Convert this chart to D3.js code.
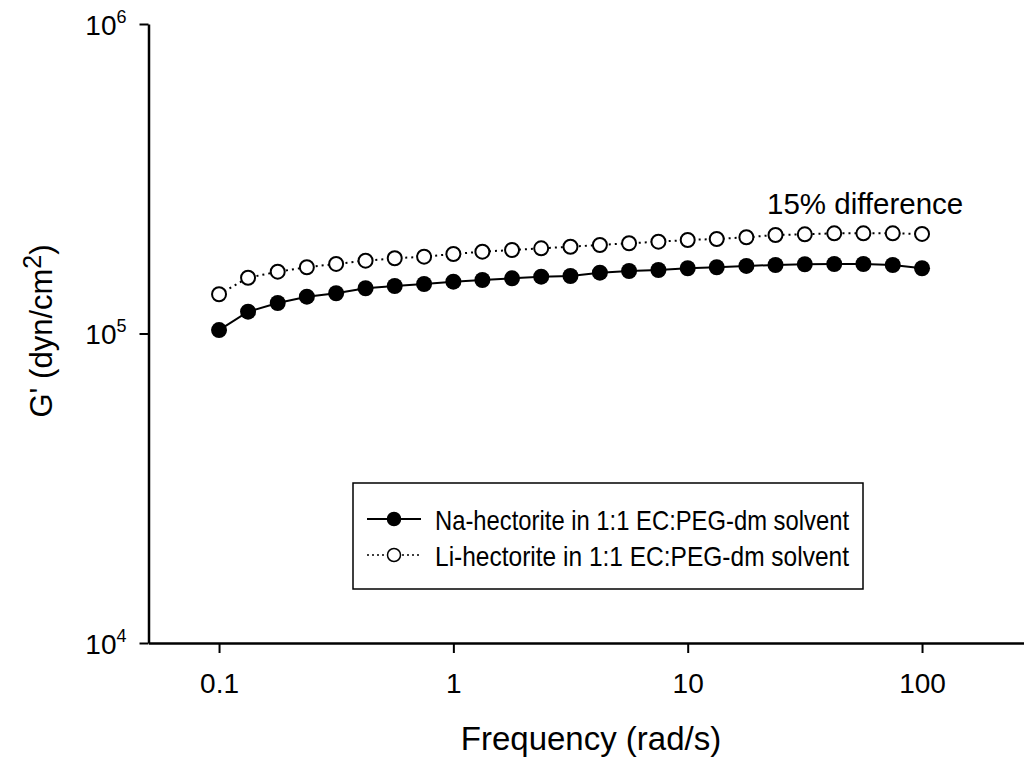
<!DOCTYPE html>
<head>
    <script src="https://d3js.org/d3.v7.min.js"></script>
    <style>
        body { margin: 0; background: #fff; }
        text { font-family: "Liberation Sans", Arial, sans-serif; fill: #000; }
    </style>
</head>
<body>
    <svg></svg>
</body>

<script>
    // Frequency (rad/s)
    var freq = [0.1, 0.133, 0.178, 0.237, 0.316, 0.422, 0.562, 0.75,
                1, 1.33, 1.78, 2.37, 3.16, 4.22, 5.62, 7.5,
                10, 13.3, 17.8, 23.7, 31.6, 42.2, 56.2, 75, 100];

    // G' (dyn/cm2), Na-hectorite
    var naG = [102600, 117600, 125500, 131500, 134900, 140000, 142400, 144500,
               147000, 148900, 150800, 152600, 153400, 157200, 159200, 160400,
               162500, 163700, 165300, 166500, 167400, 167700, 167700, 166500, 162500];

    // G' (dyn/cm2), Li-hectorite
    var liG = [133900, 151400, 158400, 163700, 167800, 171900, 175000, 177100,
               180700, 183800, 186100, 188500, 190700, 193200, 195700, 198000,
               200500, 202000, 204600, 208100, 209200, 210700, 210700, 210700, 209700];

    var seriesNames = ["Na-hectorite in 1:1 EC:PEG-dm solvent", "Li-hectorite in 1:1 EC:PEG-dm solvent"];
    var xTicks = [0.1, 1, 10, 100];
    var yTicks = [1e4, 1e5, 1e6];

    // Variables
    var width = 1024;
    var height = 765;
    var plotLeft = 148.5, plotTop = 24, plotBottom = 643;
    var decade = 234.33;

    var svg = d3.select('svg')
        .attr('width', width)
        .attr('height', height);

    var x = d3.scaleLog()
        .domain([0.05, 300])
        .range([plotLeft, plotLeft + Math.log10(300 / 0.05) * decade]);

    var y = d3.scaleLog()
        .domain([1e4, 1e6])
        .range([plotBottom, plotTop]);

    // x axis
    var xAxis = svg.append('g')
        .attr('transform', 'translate(0,' + plotBottom + ')')
        .call(d3.axisBottom(x).tickValues(xTicks).tickSizeInner(10).tickSizeOuter(0)
            .tickFormat(function (d) { return d; }));
    xAxis.select('.domain').attr('stroke-width', 2.5);
    xAxis.selectAll('.tick line').attr('stroke-width', 2);
    xAxis.selectAll('.tick text')
        .attr('y', 50)
        .attr('dy', null)
        .style('font-size', '28px');

    // y axis
    var yAxis = svg.append('g')
        .attr('transform', 'translate(' + plotLeft + ',0)')
        .call(d3.axisLeft(y).tickValues(yTicks).tickSizeInner(9).tickSizeOuter(0).tickFormat(''));
    yAxis.select('.domain').attr('stroke-width', 2.5);
    yAxis.selectAll('.tick line').attr('stroke-width', 2);
    yAxis.selectAll('.tick text').remove();
    yAxis.selectAll('.tick').append('text')
        .attr('x', -22)
        .attr('y', 10)
        .attr('text-anchor', 'end')
        .style('font-size', '28px')
        .each(function (d) {
            var t = d3.select(this);
            t.append('tspan').text('10');
            t.append('tspan')
                .attr('dy', -12)
                .style('font-size', '18px')
                .text(Math.round(Math.log10(d)));
        });

    // Axis titles
    svg.append('text')
        .attr('x', 591)
        .attr('y', 750)
        .attr('text-anchor', 'middle')
        .style('font-size', '33px')
        .text('Frequency (rad/s)');

    var yTitle = svg.append('text')
        .attr('transform', 'translate(52,331) rotate(-90)')
        .attr('text-anchor', 'middle')
        .style('font-size', '31px');
    yTitle.append('tspan').text("G' (dyn/cm");
    yTitle.append('tspan').attr('dy', -11).style('font-size', '25px').text('2');
    yTitle.append('tspan').attr('dy', 11).text(')');

    // Lines
    var line = d3.line()
        .x(function (d) { return x(d[0]); })
        .y(function (d) { return y(d[1]); });

    var naData = d3.zip(freq, naG);
    var liData = d3.zip(freq, liG);

    svg.append('path')
        .datum(liData)
        .attr('d', line)
        .attr('fill', 'none')
        .attr('stroke', '#000')
        .attr('stroke-width', 2)
        .attr('stroke-dasharray', '2,4');

    svg.append('path')
        .datum(naData)
        .attr('d', line)
        .attr('fill', 'none')
        .attr('stroke', '#000')
        .attr('stroke-width', 2);

    svg.selectAll('.li')
        .data(liData)
        .enter().append('circle')
        .attr('class', 'li')
        .attr('cx', function (d) { return x(d[0]); })
        .attr('cy', function (d) { return y(d[1]); })
        .attr('r', 7)
        .attr('fill', '#fff')
        .attr('stroke', '#000')
        .attr('stroke-width', 2);

    svg.selectAll('.na')
        .data(naData)
        .enter().append('circle')
        .attr('class', 'na')
        .attr('cx', function (d) { return x(d[0]); })
        .attr('cy', function (d) { return y(d[1]); })
        .attr('r', 8)
        .attr('fill', '#000');

    // Annotation
    svg.append('text')
        .attr('x', 767)
        .attr('y', 214)
        .style('font-size', '29.5px')
        .text('15% difference');

    // Legend
    var legend = svg.append('g').attr('transform', 'translate(353,483)');
    legend.append('rect')
        .attr('width', 510)
        .attr('height', 106)
        .attr('fill', '#fff')
        .attr('stroke', '#000')
        .attr('stroke-width', 1.5);

    var rows = [
        {name: seriesNames[0], dash: null, fill: '#000', cy: 36, base: 47},
        {name: seriesNames[1], dash: '2,3', fill: '#fff', cy: 72, base: 83}
    ];

    rows.forEach(function (r) {
        legend.append('line')
            .attr('x1', 14).attr('x2', 68)
            .attr('y1', r.cy).attr('y2', r.cy)
            .attr('stroke', '#000')
            .attr('stroke-width', r.dash ? 1.5 : 2)
            .attr('stroke-dasharray', r.dash);
        legend.append('circle')
            .attr('cx', 41).attr('cy', r.cy)
            .attr('r', 6.5)
            .attr('fill', r.fill)
            .attr('stroke', '#000')
            .attr('stroke-width', 1.5);
        legend.append('text')
            .attr('x', 82)
            .attr('y', r.base)
            .attr('textLength', 414)
            .attr('lengthAdjust', 'spacingAndGlyphs')
            .style('font-size', '28px')
            .text(r.name);
    });
</script>
